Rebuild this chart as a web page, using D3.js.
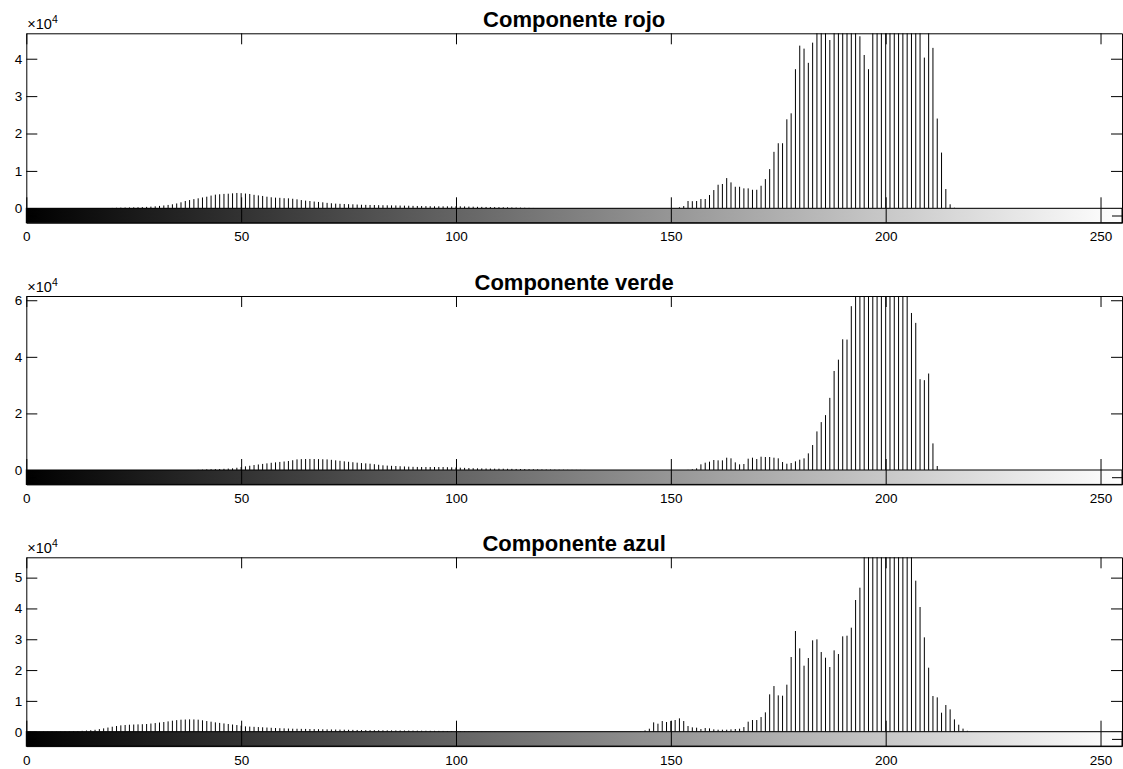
<!DOCTYPE html>
<html>
<head>
<meta charset="utf-8">
<script src="https://cdn.jsdelivr.net/npm/d3@7"></script>
<style>
  html, body { margin: 0; padding: 0; background: #fff; }
  svg { display: block; font-family: "Liberation Sans", Arial, sans-serif; }
</style>
</head>
<body>
<div id="chart"></div>
<script>
// Histograma por componente (niveles 0..255), cuentas
const levels = d3.range(256);

const rojo = [
  0, 0, 0, 0, 0, 0, 0, 0, 0, 0, 0, 0, 0, 0, 0, 0,
  0, 0, 40, 70, 100, 140, 180, 200, 230, 260, 280, 330, 380, 450, 530, 640,
  760, 900, 1070, 1300, 1600, 1960, 2200, 2450, 2670, 2900, 3100, 3400, 3650, 3750, 3850, 3900,
  4000, 4100, 4050, 3950, 3830, 3600, 3450, 3300, 3100, 2950, 2850, 2800, 2700, 2670, 2550, 2400,
  2200, 2050, 1950, 1800, 1700, 1600, 1450, 1350, 1250, 1200, 1150, 1100, 1070, 1000, 950, 920,
  890, 870, 840, 820, 800, 780, 760, 730, 710, 690, 650, 620, 600, 580, 560, 530,
  530, 520, 530, 520, 530, 530, 500, 460, 430, 400, 380, 360, 340, 320, 300, 280,
  260, 230, 200, 180, 150, 120, 90, 60, 40, 20, 0, 0, 0, 0, 0, 0,
  0, 0, 0, 0, 0, 0, 0, 0, 0, 0, 0, 0, 0, 0, 0, 0,
  0, 0, 0, 0, 0, 0, 0, 80, 270, 600, 1950, 1900, 1950, 2480, 2480, 3550,
  4880, 6300, 6500, 8080, 6930, 5760, 5760, 5330, 5330, 4960, 4960, 6030, 7810, 10480, 15100, 17400,
  17400, 23800, 25400, 37200, 43500, 42700, 38900, 44300, 51000, 55000, 53000, 45000, 52000, 58000, 61000, 57000,
  54000, 49000, 46000, 41000, 37200, 50000, 56000, 60000, 63000, 64000, 62000, 60000, 57000, 55000, 52000, 50000,
  48000, 40300, 47500, 42900, 24000, 14900, 5150, 1070, 150, 0, 0, 0, 0, 0, 0, 0,
  0, 0, 0, 0, 0, 0, 0, 0, 0, 0, 0, 0, 0, 0, 0, 0,
  0, 0, 0, 0, 0, 0, 0, 0, 0, 0, 0, 0, 0, 0, 0, 0
];

const verde = [
  0, 0, 0, 0, 0, 0, 0, 0, 0, 0, 0, 0, 0, 0, 0, 0,
  0, 0, 0, 0, 0, 0, 0, 0, 0, 0, 0, 0, 0, 0, 0, 0,
  0, 0, 0, 0, 0, 0, 0, 0, 60, 120, 235, 270, 310, 350, 420, 500,
  590, 800, 1050, 1290, 1500, 1760, 1950, 2150, 2350, 2550, 2700, 2850, 3000, 3180, 3450, 3760,
  3850, 3880, 3900, 3880, 3850, 3800, 3760, 3600, 3410, 3250, 3060, 2900, 2750, 2590, 2450, 2350,
  2230, 2050, 1850, 1650, 1550, 1480, 1410, 1330, 1250, 1180, 1120, 1080, 1060, 1060, 1060, 1060,
  1050, 1060, 1000, 950, 880, 820, 760, 700, 640, 590, 560, 530, 500, 480, 470, 450,
  420, 400, 370, 350, 320, 290, 260, 235, 200, 180, 150, 130, 120, 100, 80, 60,
  50, 40, 30, 0, 0, 0, 0, 0, 0, 0, 0, 0, 0, 0, 0, 0,
  0, 0, 0, 0, 0, 0, 0, 0, 0, 0, 60, 240, 590, 2000, 2590, 2940,
  3530, 3410, 3410, 4350, 4120, 2700, 2000, 2120, 4000, 4350, 3880, 4700, 4590, 4590, 4350, 4120,
  2820, 2230, 2470, 3060, 3650, 4120, 5880, 8820, 13640, 16930, 19400, 25500, 35000, 39000, 46200, 46100,
  57900, 64000, 68000, 72000, 75000, 78000, 76000, 74000, 73000, 71000, 70000, 68000, 66000, 63000, 55500, 52000,
  32100, 31750, 34100, 9400, 1410, 0, 0, 0, 0, 0, 0, 0, 0, 0, 0, 0,
  0, 0, 0, 0, 0, 0, 0, 0, 0, 0, 0, 0, 0, 0, 0, 0,
  0, 0, 0, 0, 0, 0, 0, 0, 0, 0, 0, 0, 0, 0, 0, 0
];

const azul = [
  50, 60, 70, 80, 100, 100, 100, 100, 100, 120, 150, 180, 200, 280, 380, 480,
  620, 850, 1080, 1350, 1620, 1850, 2060, 2170, 2270, 2330, 2380, 2430, 2490, 2650, 2810, 2980,
  3140, 3350, 3570, 3750, 3900, 3950, 4000, 3980, 3900, 3700, 3460, 3250, 3030, 2850, 2680, 2500,
  2330, 2160, 1950, 1730, 1650, 1580, 1510, 1430, 1350, 1270, 1190, 1130, 1080, 1020, 970, 950,
  920, 900, 870, 840, 810, 790, 760, 730, 700, 680, 650, 620, 590, 560, 540, 520,
  500, 490, 470, 460, 440, 430, 420, 400, 390, 380, 360, 350, 330, 320, 300, 290,
  270, 250, 230, 220, 200, 180, 150, 120, 100, 80, 60, 40, 30, 20, 0, 0,
  0, 0, 0, 0, 0, 0, 0, 0, 0, 0, 0, 0, 0, 0, 0, 0,
  0, 0, 0, 0, 0, 0, 0, 0, 0, 0, 0, 0, 0, 0, 0, 120,
  430, 970, 3030, 2600, 3460, 3140, 3460, 3790, 4330, 3460, 1840, 1410, 1300, 870, 1190, 1080,
  760, 650, 650, 650, 760, 870, 970, 1510, 3250, 3790, 3790, 4760, 6280, 12120, 14820, 11790,
  11690, 15260, 24240, 32680, 27050, 21420, 23910, 29650, 29970, 25860, 24020, 20990, 26400, 25210, 30950, 31160,
  33760, 42740, 46740, 58000, 62000, 66000, 70000, 72000, 71000, 69000, 67000, 65000, 63000, 61000, 58000, 49010,
  40470, 30620, 20770, 11580, 11140, 6170, 8660, 7250, 4000, 2270, 1000, 300, 60, 0, 0, 0,
  0, 0, 0, 0, 0, 0, 0, 0, 0, 0, 0, 0, 0, 0, 0, 0,
  0, 0, 0, 0, 0, 0, 0, 0, 0, 0, 0, 0, 0, 0, 0, 0
];

const titles  = ['Componente rojo', 'Componente verde', 'Componente azul'];
const series  = [rojo, verde, azul];
const yMax    = [46800, 61500, 56600];
const yTicks  = [[0, 1e4, 2e4, 3e4, 4e4], [0, 2e4, 4e4, 6e4], [0, 1e4, 2e4, 3e4, 4e4, 5e4]];
const xTicks  = [0, 50, 100, 150, 200, 250];

// posiciones de cada panel (borde superior y línea base en px)
const panelTop  = [33.3, 296, 557.3];
const panelBase = [208.3, 470, 731.7];

const W = 1123, H = 769;
const left = 26.3, right = 1122;
const cbH = 14.4, tick = 11;
const fontSize = 13.5;

const svg = d3.select('#chart').append('svg')
    .attr('width', W).attr('height', H);

const defs = svg.append('defs');
const grad = defs.append('linearGradient').attr('id', 'grayramp')
    .attr('x1', '0%').attr('x2', '100%').attr('y1', '0%').attr('y2', '0%');
grad.append('stop').attr('offset', '0%').attr('stop-color', '#000');
grad.append('stop').attr('offset', '100%').attr('stop-color', '#fff');

const x = d3.scaleLinear().domain([0, 255]).range([left, right]);

const styleAxis = g => {
    g.selectAll('.domain').attr('stroke', '#000').attr('stroke-width', 1);
    g.selectAll('.tick line').attr('stroke', '#000').attr('stroke-width', 1);
    g.selectAll('.tick text').attr('fill', '#000')
        .style('font-size', fontSize + 'px')
        .style('font-family', '"Liberation Sans", Arial, sans-serif');
};

series.forEach((values, i) => {
    const top  = panelTop[i];
    const base = panelBase[i];
    const y = d3.scaleLinear().domain([0, yMax[i]]).range([base, top]).clamp(true);
    const g = svg.append('g');

    // fondo del eje
    g.append('rect')
        .attr('x', left).attr('y', top)
        .attr('width', right - left).attr('height', base - top)
        .attr('fill', '#fff');

    // stems
    g.append('g').selectAll('line').data(levels).join('line')
        .attr('x1', d => x(d)).attr('x2', d => x(d))
        .attr('y1', y(0)).attr('y2', d => y(values[d]))
        .attr('stroke', '#000').attr('stroke-width', 1)
        .attr('display', d => values[d] > 0 ? null : 'none');

    // ejes del histograma
    g.append('g').attr('transform', `translate(${left},0)`)
        .call(d3.axisLeft(y).tickValues(yTicks[i]).tickSize(-tick).tickSizeOuter(0)
            .tickPadding(4).tickFormat(d => d / 1e4))
        .call(styleAxis);

    g.append('g').attr('transform', `translate(${right},0)`)
        .call(d3.axisRight(y).tickValues(yTicks[i]).tickSize(-tick).tickSizeOuter(0)
            .tickFormat(''))
        .call(styleAxis);

    g.append('g').attr('transform', `translate(0,${top})`)
        .call(d3.axisTop(x).tickValues(xTicks).tickSize(-tick).tickSizeOuter(0)
            .tickFormat(''))
        .call(styleAxis);

    g.append('g').attr('transform', `translate(0,${base})`)
        .call(d3.axisBottom(x).tickValues(xTicks).tickSize(-tick).tickSizeOuter(0)
            .tickFormat(''))
        .call(styleAxis);

    // multiplicador x10^4
    const mult = g.append('text')
        .attr('x', left + 1).attr('y', top - 4)
        .style('font-size', '14.5px').attr('fill', '#000');
    mult.append('tspan').text('×10');
    mult.append('tspan').attr('dy', -6).style('font-size', '10.5px').text('4');

    // título
    g.append('text')
        .attr('x', (left + right) / 2).attr('y', top - 6)
        .attr('text-anchor', 'middle')
        .style('font-size', '22px').style('font-weight', 'bold')
        .attr('fill', '#000')
        .text(titles[i]);

    // barra de grises
    const cb = svg.append('g');
    cb.append('rect')
        .attr('x', left).attr('y', base)
        .attr('width', right - left).attr('height', cbH)
        .attr('fill', 'url(#grayramp)');

    const cy = d3.scaleLinear().domain([0, 1]).range([base + cbH, base]);

    cb.append('g').attr('transform', `translate(0,${base + cbH})`)
        .call(d3.axisBottom(x).tickValues(xTicks).tickSize(-cbH).tickSizeOuter(0)
            .tickPadding(9).tickFormat(d3.format('d')))
        .call(styleAxis);

    cb.append('g').attr('transform', `translate(${left},0)`)
        .call(d3.axisLeft(cy).tickValues([0.5]).tickSize(-10).tickSizeOuter(0).tickFormat(''))
        .call(styleAxis);

    cb.append('g').attr('transform', `translate(${right},0)`)
        .call(d3.axisRight(cy).tickValues([0.5]).tickSize(-10).tickSizeOuter(0).tickFormat(''))
        .call(styleAxis);

    cb.append('rect')
        .attr('x', left).attr('y', base)
        .attr('width', right - left).attr('height', cbH)
        .attr('fill', 'none').attr('stroke', '#000').attr('stroke-width', 1);
});
</script>
</body>
</html>
